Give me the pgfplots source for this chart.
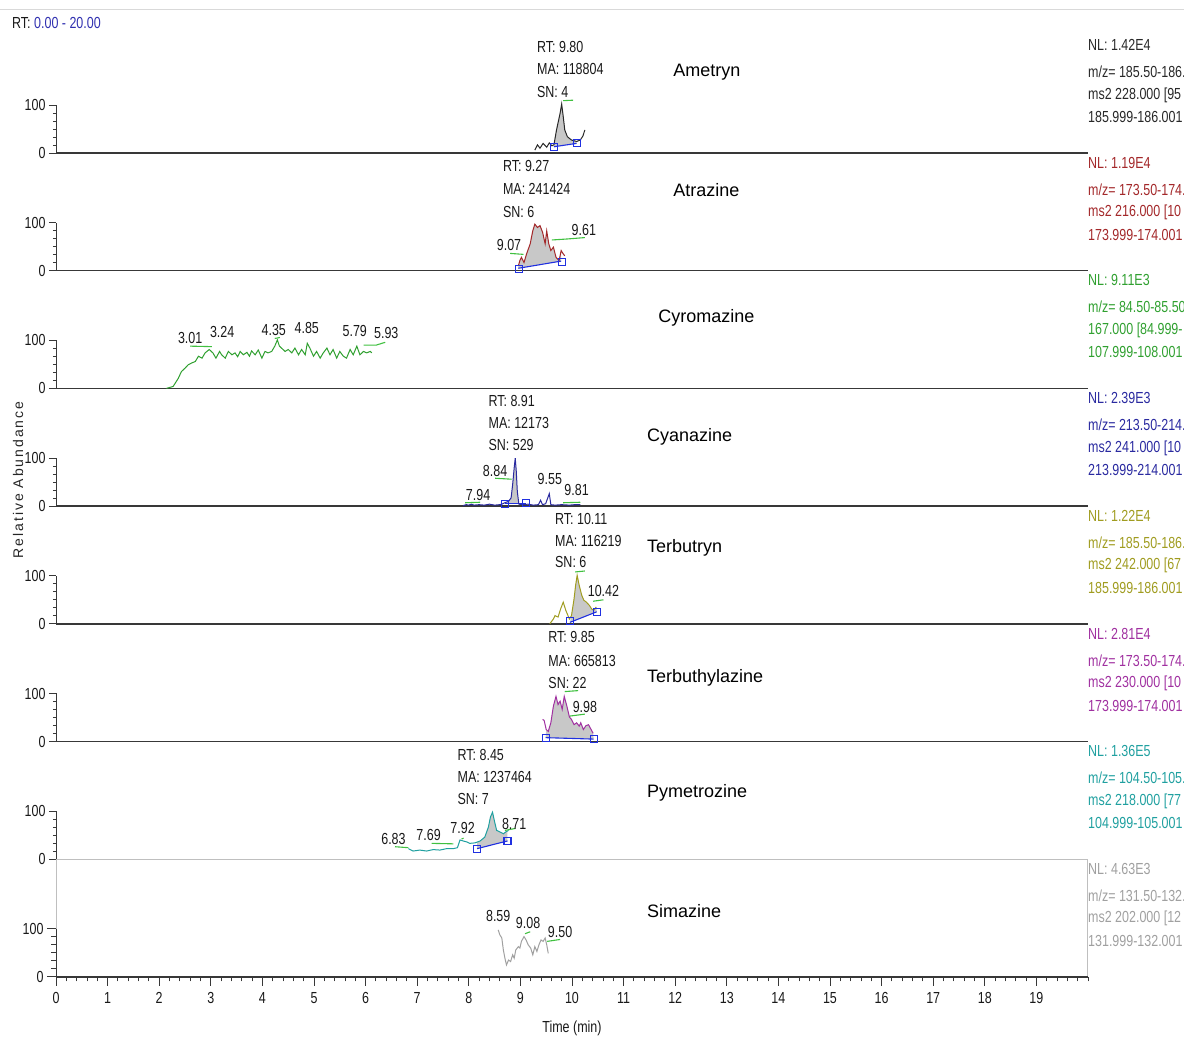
\documentclass[border=0pt]{standalone}
\usepackage{pgfplots}
\pgfplotsset{compat=1.18}
\usepackage{fontspec}
\setmainfont{Liberation Sans}
\newfontfamily\nar[FakeStretch=0.78]{Liberation Sans}
\definecolor{cAm}{HTML}{282828}
\definecolor{cAt}{HTML}{A3282A}
\definecolor{cCy}{HTML}{30A030}
\definecolor{cCn}{HTML}{2A2AA0}
\definecolor{cTb}{HTML}{A09C20}
\definecolor{cTz}{HTML}{A030A0}
\definecolor{cPy}{HTML}{20A0A0}
\definecolor{cSi}{HTML}{A0A0A0}
\definecolor{gleader}{HTML}{40C040}
\definecolor{bblue}{HTML}{2030E0}
\definecolor{fillg}{HTML}{C8C8C8}
\definecolor{rtblue}{HTML}{3030B0}
\definecolor{axc}{HTML}{383838}
\tikzset{
  lab/.style={font=\nar\fontsize{16}{18}\selectfont, text=black!90, inner sep=0pt},
  cmp/.style={font=\fontsize{18}{20}\selectfont, text=black, inner sep=0pt, anchor=west},
}
\pgfplotsset{
  panel/.style={
    width=1032pt, height=117.7pt, scale only axis,
    xmin=0, xmax=20, ymin=0, ymax=245.2,
    axis lines=left, axis line style={draw=none,-},
    ytick={0,100}, minor y tick num=5,
    xtick=\empty,
    tick align=outside, major tick length=7pt, minor tick length=3pt,
    tick style={axc, line width=0.9pt},
    /pgf/number format/assume math mode=true,
    yticklabel style={font=\nar\fontsize{16}{18}\selectfont, text=black!90},
    clip=false,
  },
  tr/.style={mark=none, line width=1pt},
  bl/.style={mark=none, bblue, line width=1.1pt},
  sq/.style={only marks, mark=square, mark size=3.5pt, mark options={draw=bblue, line width=1.1pt}},
  gl/.style={mark=none, gleader, line width=1.1pt},
  fl/.style={mark=none, draw=none, fill=fillg},
}
\newcommand\baseaxis{%
  \draw[axc, line width=1.5pt] (axis cs:0,0) -- (axis cs:20,0);
  \draw[axc, line width=1pt] (axis cs:0,0) -- (axis cs:0,100);}
\newcommand\info[5]{%
  \node[lab,anchor=west,text=#1] at (axis cs:20,225) {#2};
  \node[lab,anchor=west,text=#1] at (axis cs:20,169) {#3};
  \node[lab,anchor=west,text=#1] at (axis cs:20,121) {#4};
  \node[lab,anchor=west,text=#1] at (axis cs:20,75) {#5};}
\begin{document}
\begin{tikzpicture}
% ---------------- Ametryn
\begin{axis}[panel, at={(56pt,884pt)}, anchor=south west]
\baseaxis
\addplot[fl] coordinates {(9.65,13) (9.65,17) (9.70,48) (9.77,83) (9.80,102) (9.83,76) (9.86,48) (9.91,34) (9.99,27) (10.09,24) (10.09,20)};
\addplot[bl] coordinates {(9.65,13) (10.09,20)};
\addplot[tr, cAm] coordinates {(9.28,6) (9.33,17) (9.38,10) (9.44,20) (9.51,12) (9.56,21) (9.61,15) (9.65,17) (9.70,48) (9.77,83) (9.80,102) (9.83,76) (9.86,48) (9.91,34) (9.99,27) (10.09,24) (10.16,27) (10.21,35) (10.25,48)};
\addplot[sq] coordinates {(9.65,13) (10.09,20)};
\addplot[gl] coordinates {(9.83,109) (10.02,110)};
\node[lab,anchor=west] at (axis cs:9.32,221) {RT: 9.80};
\node[lab,anchor=west] at (axis cs:9.32,175) {MA: 118804};
\node[lab,anchor=west] at (axis cs:9.32,127) {SN: 4};
\node[cmp] at (axis cs:11.96,169) {Ametryn};
\info{cAm}{NL: 1.42E4}{m/z= 185.50-186.}{ms2 228.000 [95}{185.999-186.001}
\end{axis}
% ---------------- Atrazine
\begin{axis}[panel, at={(56pt,766.3pt)}, anchor=south west]
\baseaxis
\addplot[fl] coordinates {(8.96,5) (8.96,10) (8.99,21) (9.02,28) (9.07,17) (9.12,35) (9.19,56) (9.24,83) (9.28,97) (9.33,90) (9.38,94) (9.43,80) (9.48,56) (9.51,83) (9.55,56) (9.59,42) (9.64,49) (9.69,28) (9.75,21) (9.79,40) (9.79,20)};
\addplot[bl] coordinates {(8.96,5) (9.79,20)};
\addplot[tr, cAt] coordinates {(8.96,10) (8.99,21) (9.02,28) (9.07,17) (9.12,35) (9.19,56) (9.24,83) (9.28,97) (9.33,90) (9.38,94) (9.43,80) (9.48,56) (9.51,83) (9.55,56) (9.59,42) (9.64,49) (9.69,28) (9.75,21) (9.79,42) (9.83,35) (9.86,31)};
\addplot[sq] coordinates {(8.97,4) (9.80,19)};
\addplot[gl] coordinates {(8.80,36) (9.06,34)};
\addplot[gl] coordinates {(9.61,64) (9.90,66) (10.25,69)};
\node[lab,anchor=west] at (axis cs:8.66,219) {RT: 9.27};
\node[lab,anchor=west] at (axis cs:8.66,171) {MA: 241424};
\node[lab,anchor=west] at (axis cs:8.66,123) {SN: 6};
\node[lab] at (axis cs:8.78,54) {9.07};
\node[lab] at (axis cs:10.23,85) {9.61};
\node[cmp] at (axis cs:11.96,167) {Atrazine};
\info{cAt}{NL: 1.19E4}{m/z= 173.50-174.}{ms2 216.000 [10}{173.999-174.001}
\end{axis}
% ---------------- Cyromazine
\begin{axis}[panel, at={(56pt,648.6pt)}, anchor=south west]
\baseaxis
\addplot[tr, cCy] coordinates {(2.14,0) (2.27,4) (2.37,21) (2.43,35) (2.50,42) (2.56,49) (2.63,53) (2.70,56) (2.76,67) (2.83,63) (2.89,74) (2.97,81) (3.04,74) (3.10,63) (3.17,77) (3.21,70) (3.28,63) (3.34,77) (3.41,70) (3.47,74) (3.52,66) (3.57,77) (3.63,70) (3.70,75) (3.75,67) (3.79,78) (3.86,70) (3.92,80) (3.99,63) (4.05,77) (4.11,74) (4.18,77) (4.24,88) (4.29,101) (4.33,88) (4.37,84) (4.44,77) (4.50,81) (4.57,74) (4.63,84) (4.70,70) (4.76,81) (4.83,70) (4.87,94) (4.92,84) (4.99,67) (5.05,77) (5.12,63) (5.18,74) (5.25,84) (5.31,70) (5.37,81) (5.44,63) (5.50,77) (5.57,67) (5.63,63) (5.70,81) (5.76,70) (5.83,88) (5.89,70) (5.96,77) (6.02,74) (6.09,77) (6.12,74)};
\addplot[gl] coordinates {(2.60,88) (3.02,87)};
\addplot[gl] coordinates {(4.24,104) (4.34,106)};
\addplot[gl] coordinates {(5.96,90) (6.20,90) (6.38,96)};
\node[lab] at (axis cs:2.60,104) {3.01};
\node[lab] at (axis cs:3.22,117) {3.24};
\node[lab] at (axis cs:4.22,122) {4.35};
\node[lab] at (axis cs:4.86,125) {4.85};
\node[lab] at (axis cs:5.79,119) {5.79};
\node[lab] at (axis cs:6.40,115) {5.93};
\node[cmp] at (axis cs:11.67,146) {Cyromazine};
\info{cCy}{NL: 9.11E3}{m/z= 84.50-85.50}{167.000 [84.999-}{107.999-108.001}
\end{axis}
% ---------------- Cyanazine
\begin{axis}[panel, at={(56pt,530.9pt)}, anchor=south west]
\baseaxis
\addplot[fl] coordinates {(8.70,5) (8.77,10) (8.82,17) (8.85,45) (8.88,80) (8.90,100) (8.92,73) (8.94,31) (8.97,5)};
\addplot[bl] coordinates {(8.70,5) (9.11,5)};
\addplot[tr, cCn] coordinates {(7.89,1) (7.95,3) (8.00,2) (8.05,4) (8.10,2) (8.20,3) (8.30,2) (8.40,4) (8.50,2) (8.60,3) (8.64,4) (8.70,7) (8.77,10) (8.82,17) (8.85,45) (8.88,80) (8.90,100) (8.92,73) (8.94,31) (8.97,4) (9.05,3) (9.15,4) (9.25,2) (9.35,3) (9.39,12) (9.43,3) (9.49,5) (9.56,26) (9.59,3) (9.67,2) (9.80,3) (9.95,2) (10.05,3) (10.16,3)};
\addplot[sq] coordinates {(8.70,5) (9.11,6)};
\addplot[gl] coordinates {(8.51,58) (8.83,56)};
\addplot[gl] coordinates {(7.93,7) (8.22,8)};
\addplot[gl] coordinates {(9.83,7) (10.16,8)};
\node[lab,anchor=west] at (axis cs:8.38,219) {RT: 8.91};
\node[lab,anchor=west] at (axis cs:8.38,173) {MA: 12173};
\node[lab,anchor=west] at (axis cs:8.38,127) {SN: 529};
\node[lab] at (axis cs:8.51,73) {8.84};
\node[lab] at (axis cs:8.18,23) {7.94};
\node[lab] at (axis cs:9.57,56) {9.55};
\node[lab] at (axis cs:10.09,33) {9.81};
\node[cmp] at (axis cs:11.45,144) {Cyanazine};
\info{cCn}{NL: 2.39E3}{m/z= 213.50-214.}{ms2 241.000 [10}{213.999-214.001}
\end{axis}
% ---------------- Terbutryn
\begin{axis}[panel, at={(56pt,413.2pt)}, anchor=south west]
\baseaxis
\addplot[fl] coordinates {(9.96,3) (9.99,17) (10.04,52) (10.07,80) (10.10,101) (10.14,80) (10.19,59) (10.23,49) (10.28,45) (10.34,38) (10.38,31) (10.42,28) (10.47,35) (10.48,25)};
\addplot[bl] coordinates {(9.96,3) (10.48,25)};
\addplot[tr, cTb] coordinates {(9.57,0) (9.64,10) (9.67,17) (9.73,14) (9.78,31) (9.83,45) (9.88,28) (9.95,10) (9.99,17) (10.04,52) (10.07,80) (10.10,101) (10.14,80) (10.19,59) (10.23,49) (10.28,45) (10.34,38) (10.38,31) (10.42,28) (10.47,35)};
\addplot[sq] coordinates {(9.97,5) (10.48,24)};
\addplot[gl] coordinates {(10.06,108) (10.25,110)};
\addplot[gl] coordinates {(10.41,47) (10.61,50)};
\node[lab,anchor=west] at (axis cs:9.67,219) {RT: 10.11};
\node[lab,anchor=west] at (axis cs:9.67,173) {MA: 116219};
\node[lab,anchor=west] at (axis cs:9.67,129) {SN: 6};
\node[lab] at (axis cs:10.61,69) {10.42};
\node[cmp] at (axis cs:11.45,158) {Terbutryn};
\info{cTb}{NL: 1.22E4}{m/z= 185.50-186.}{ms2 242.000 [67}{185.999-186.001}
\end{axis}
% ---------------- Terbuthylazine
\begin{axis}[panel, at={(56pt,295.5pt)}, anchor=south west]
\baseaxis
\addplot[fl] coordinates {(9.49,8) (9.50,25) (9.54,21) (9.59,39) (9.64,74) (9.69,94) (9.73,77) (9.77,84) (9.81,67) (9.85,94) (9.90,74) (9.95,51) (9.99,46) (10.04,35) (10.09,39) (10.14,32) (10.17,39) (10.22,25) (10.27,33) (10.32,35) (10.37,25) (10.41,17) (10.42,5)};
\addplot[bl] coordinates {(9.49,8) (10.42,5)};
\addplot[tr, cTz] coordinates {(9.43,46) (9.46,44) (9.50,25) (9.54,21) (9.59,39) (9.64,74) (9.69,94) (9.73,77) (9.77,84) (9.81,67) (9.85,94) (9.90,74) (9.95,51) (9.99,46) (10.04,35) (10.09,39) (10.14,32) (10.17,39) (10.22,25) (10.27,33) (10.32,35) (10.37,25) (10.41,17)};
\addplot[sq] coordinates {(9.49,8) (10.42,5)};
\addplot[gl] coordinates {(9.86,104) (10.12,106)};
\addplot[gl] coordinates {(9.96,53) (10.25,57)};
\node[lab,anchor=west] at (axis cs:9.54,217) {RT: 9.85};
\node[lab,anchor=west] at (axis cs:9.54,167) {MA: 665813};
\node[lab,anchor=west] at (axis cs:9.54,122) {SN: 22};
\node[lab] at (axis cs:10.25,72) {9.98};
\node[cmp] at (axis cs:11.45,133) {Terbuthylazine};
\info{cTz}{NL: 2.81E4}{m/z= 173.50-174.}{ms2 230.000 [10}{173.999-174.001}
\end{axis}
% ---------------- Pymetrozine
\begin{axis}[panel, at={(56pt,177.8pt)}, anchor=south west]
\draw[axc, line width=1pt] (axis cs:0,0) -- (axis cs:0,100);
\addplot[fl] coordinates {(8.16,22) (8.16,36) (8.22,38) (8.31,46) (8.38,67) (8.42,88) (8.46,98) (8.50,78) (8.54,60) (8.60,57) (8.67,53) (8.72,57) (8.75,58) (8.75,38)};
\addplot[bl] coordinates {(8.16,22) (8.75,38)};
\addplot[tr, cPy] coordinates {(6.83,22) (6.92,17) (7.05,19) (7.18,17) (7.31,20) (7.44,19) (7.57,22) (7.70,22) (7.78,24) (7.83,40) (7.89,38) (7.96,36) (8.02,33) (8.12,34) (8.22,38) (8.31,46) (8.38,67) (8.42,88) (8.46,98) (8.50,78) (8.54,60) (8.60,57) (8.67,53) (8.72,57) (8.77,60)};
\addplot[sq] coordinates {(8.16,22) (8.75,38)};
\addplot[gl] coordinates {(6.57,26) (6.83,24)};
\addplot[gl] coordinates {(7.28,33) (7.70,32)};
\addplot[gl] coordinates {(7.86,42) (7.90,44)};
\addplot[gl] coordinates {(8.70,60) (8.90,64)};
\node[lab,anchor=west] at (axis cs:7.78,217) {RT: 8.45};
\node[lab,anchor=west] at (axis cs:7.78,171) {MA: 1237464};
\node[lab,anchor=west] at (axis cs:7.78,126) {SN: 7};
\node[lab] at (axis cs:6.54,43) {6.83};
\node[lab] at (axis cs:7.22,50) {7.69};
\node[lab] at (axis cs:7.88,66) {7.92};
\node[lab] at (axis cs:8.88,74) {8.71};
\node[cmp] at (axis cs:11.45,137.5) {Pymetrozine};
\info{cPy}{NL: 1.36E5}{m/z= 104.50-105.}{ms2 218.000 [77}{104.999-105.001}
\end{axis}
% ---------------- Simazine
\begin{axis}[panel, at={(56pt,60.1pt)}, anchor=south west,
  xtick={0,1,...,19}, minor xtick={0,0.2,...,20},
  major tick length=9pt, minor tick length=4.5pt,
  xticklabel style={font=\nar\fontsize{16}{18}\selectfont, text=black!90, yshift=-3pt}]
\draw[black!25, line width=1pt] (axis cs:0,0) -- (axis cs:0,245.2) -- (axis cs:20,245.2) -- (axis cs:20,0);
\baseaxis
\addplot[tr, cSi] coordinates {(8.57,98) (8.60,88) (8.64,81) (8.67,56) (8.70,39) (8.73,25) (8.77,35) (8.81,32) (8.85,46) (8.88,39) (8.91,56) (8.96,63) (8.99,60) (9.02,74) (9.07,84) (9.11,77) (9.15,67) (9.20,60) (9.24,46) (9.28,63) (9.32,53) (9.36,67) (9.40,77) (9.44,74) (9.48,81) (9.51,67) (9.54,49)};
\addplot[gl] coordinates {(9.09,90) (9.19,94)};
\addplot[gl] coordinates {(9.52,74) (9.77,78)};
\node[lab] at (axis cs:8.57,126) {8.59};
\node[lab] at (axis cs:9.15,113) {9.08};
\node[lab] at (axis cs:9.77,94) {9.50};
\node[cmp] at (axis cs:11.45,137.5) {Simazine};
\info{cSi}{NL: 4.63E3}{m/z= 131.50-132.}{ms2 202.000 [12}{131.999-132.001}
\node[lab] at (axis cs:10,0) [yshift=-51pt] {Time (min)};
\end{axis}
% ---------------- frame texts
\draw[black!15, line width=1pt] (0pt,1027pt) -- (1184pt,1027pt);
\node[lab, anchor=west] at (12pt,1014pt) {RT: \textcolor{rtblue}{0.00 - 20.00}};
\node[font=\addfontfeature{LetterSpace=14}\fontsize{14}{16}\selectfont, text=black!85, rotate=90, inner sep=0pt] at (18pt,557pt) {Relative Abundance};
\pgfresetboundingbox
\path (0pt,0pt) rectangle (1184pt,1037pt);
\end{tikzpicture}
\end{document}
